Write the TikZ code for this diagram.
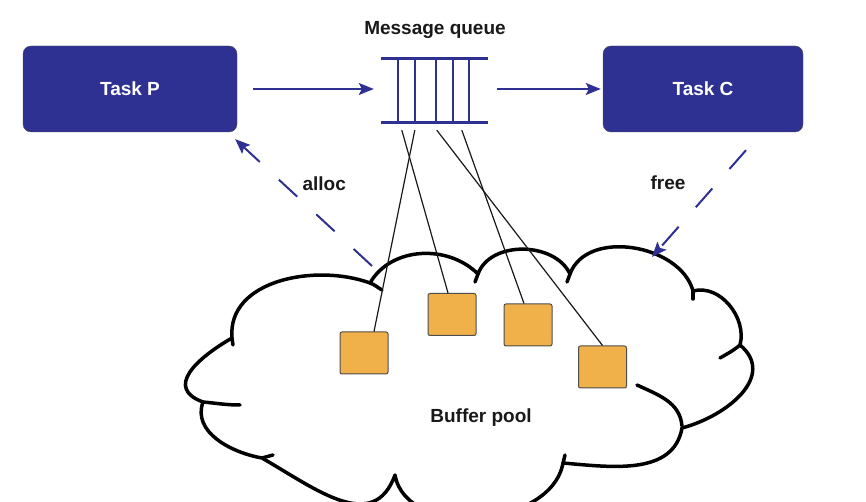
\documentclass[tikz,border=0pt]{standalone}
\usepackage{fontspec}
\setmainfont{Liberation Sans}
\usetikzlibrary{positioning,arrows.meta,calc}
\definecolor{taskblue}{HTML}{2E3192}
\definecolor{bufyellow}{HTML}{F0B14A}
\definecolor{inkgrey}{HTML}{4D4D4D}
\begin{document}
\begin{tikzpicture}[x=1pt,y=1pt,
        task/.style={draw=inkgrey,thin,fill=taskblue,rounded corners=8pt,
            minimum height=86pt,text=white,font=\fontsize{19}{22}\selectfont\bfseries},
        buf/.style={draw=inkgrey,line width=1pt,fill=bufyellow,rounded corners=2pt,
            minimum width=48pt,minimum height=42pt,inner sep=0pt},
        lbl/.style={font=\fontsize{19}{22}\selectfont\bfseries,text=black!90},
        rail/.style={taskblue,line width=3pt},
        slot/.style={taskblue,line width=1.4pt},
        flow/.style={taskblue,line width=1.5pt,-{Stealth[length=15pt,width=12pt,inset=3pt]}},
        dashflow/.style={flow,line width=2pt,dash pattern=on 25pt off 26pt},
        link/.style={black!90,line width=1.2pt},
        cloudline/.style={black,line width=3.5pt,line join=round,line cap=round}]
        \useasboundingbox (0,0) rectangle (866,502);
        \clip (0,0) rectangle (866,502);
        \draw[cloudline,fill=white] (232,164) to[out=95,in=160] (370,219)
            to[out=60,in=135] (478,228) to[out=70,in=115] (570,228)
            to[out=70,in=105] (693,211) to[out=15,in=75] (740,157)
            to[out=-40,in=15,looseness=1.2] (682,74) to[out=-100,in=-5] (563,39)
            to[out=-100,in=-80] (395,27) to[out=-110,in=-30,looseness=1.2] (262,44)
            to[out=170,in=-110] (203,100) to[out=160,in=210,looseness=1.5] (232,164) -- cycle;
        \draw[cloudline] (370,219) to[out=-20,in=150] (382,212);
        \draw[cloudline] (478,228) -- (475,220);
        \draw[cloudline] (570,228) -- (567,220);
        \draw[cloudline] (693,211) -- (693,203);
        \draw[cloudline] (740,157) to[out=-140,in=30] (720,144);
        \draw[cloudline] (682,76) to[out=95,in=-25] (637,117);
        \draw[cloudline] (563,39) -- (565,47);
        \draw[cloudline] (262,44) -- (273,47);
        \draw[cloudline] (203,100) to[out=-5,in=180] (240,97);
        \draw[cloudline] (232,164) -- (233,157);
        \coordinate (allocTail) at (372,236);
        \coordinate (freeHead) at (652,245);
        \node[task,minimum width=214pt] (taskP) at (130,413) {Task P};
        \node[task,minimum width=200pt] (taskC) at (703,413) {Task C};
        \node[minimum width=107pt,minimum height=63pt,inner sep=0pt] (queue) at (434.5,411.5) {};
        \node[lbl] (qname) at (435,472) {Message queue};
        \draw[rail] (queue.north west) -- (queue.north east);
        \draw[rail] (queue.south west) -- (queue.south east);
        \foreach \dx in {17,34,55,72,88}
            \draw[slot] ($(queue.north west)+(\dx,0)$) -- ($(queue.south west)+(\dx,0)$);
        \draw[flow,shorten <=16pt,shorten >=7pt] (taskP.east) -- (taskP.east -| queue.west);
        \draw[flow,shorten <=9pt,shorten >=2pt] (taskC.west -| queue.east) -- (taskC.west);
        \draw[dashflow] (allocTail) -- ($(taskP.south east)+(-2,-7)$)
            node[lbl,pos=0.62,above right=-8pt and 11pt] (alloc) {alloc};
        \draw[dashflow] ($(taskC.south)+(43,-18)$) -- (freeHead)
            node[lbl,pos=0.3,left=28pt] (free) {free};
        \node[buf] (buf1) at (364,149) {};
        \node[buf] (buf2) at (452,187.5) {};
        \node[buf] (buf3) at (528,177) {};
        \node[buf] (buf4) at (602.5,135) {};
        \draw[link] ($(queue.south west)+(34,-8)$) -- ($(buf1.north)+(10,0)$);
        \draw[link] ($(queue.south west)+(21,-8)$) -- ($(buf2.north)+(-4,0)$);
        \draw[link] ($(queue.south west)+(81,-8)$) -- ($(buf3.north)+(-4,0)$);
        \draw[link] ($(queue.south west)+(56,-8)$) -- (buf4.north);
        \node[lbl] (pool) at (481,84) {Buffer pool};
\end{tikzpicture}
\end{document}
